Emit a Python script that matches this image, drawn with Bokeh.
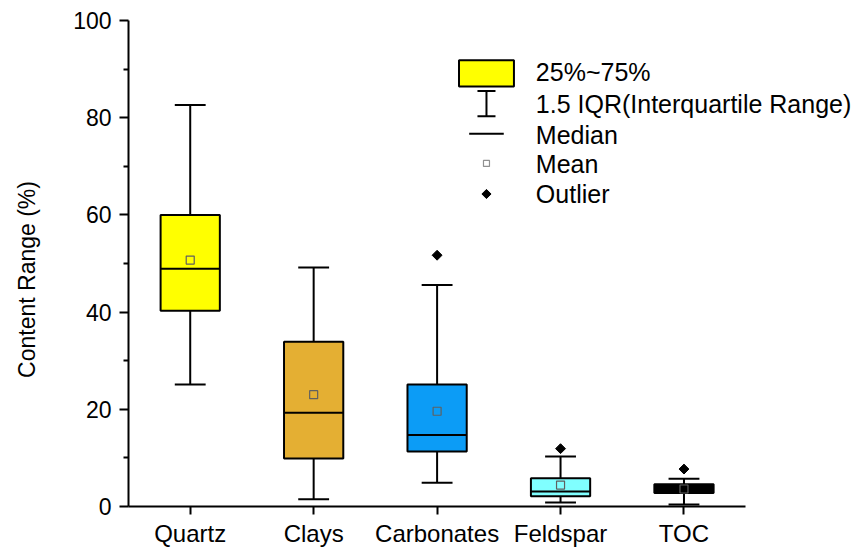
import numpy as np
from bokeh.plotting import figure
from bokeh.models import Range1d, FixedTicker, Label, ColumnDataSource
from bokeh.embed import file_html
from bokeh.resources import INLINE

# ---- data ----
categories = ["Quartz", "Clays", "Carbonates", "Feldspar", "TOC"]
lower_whisker = [25.1, 1.5, 4.9, 0.8, 0.4]
q1 = [40.3, 9.9, 11.3, 2.1, 2.8]
median = [48.9, 19.3, 14.7, 3.1, 3.3]
mean = [50.7, 23.0, 19.6, 4.4, 3.6]
q3 = [60.0, 33.9, 25.1, 5.8, 4.6]
upper_whisker = [82.6, 49.2, 45.6, 10.3, 5.7]
outlier_cat = ["Carbonates", "Feldspar", "TOC"]
outlier_val = [51.7, 11.9, 7.7]
colors = ["#FFFF00", "#E4AF33", "#0C9CF6", "#80FFFF", "#000000"]

legend_labels = ["25%~75%", "1.5 IQR(Interquartile Range)", "Median", "Mean", "Outlier"]

FONT = "Liberation Sans"

xpos = np.arange(1, len(categories) + 1, dtype=float)
pos_of = {c: i + 1 for i, c in enumerate(categories)}

# frame extends to the right edge so the legend text is not clipped;
# the x axis line is limited with bounds
p = figure(width=860, height=549, output_backend="svg", toolbar_location=None,
           x_range=Range1d(0.5, 6.43), y_range=Range1d(0, 100),
           min_border_left=128, min_border_right=0, min_border_top=20,
           min_border_bottom=42)
p.outline_line_color = None
p.xgrid.visible = False
p.ygrid.visible = False
p.background_fill_color = "white"
p.border_fill_color = "white"

# axes
p.xaxis.bounds = (0.5, 5.5)
p.yaxis.bounds = (0, 100)
p.xaxis.ticker = FixedTicker(ticks=list(xpos))
overrides = {float(x): c for x, c in zip(xpos, categories)}
overrides.update({int(x): c for x, c in zip(xpos, categories)})
p.xaxis.major_label_overrides = overrides
p.xaxis.minor_tick_line_color = None
p.yaxis.ticker = FixedTicker(ticks=[0, 20, 40, 60, 80, 100], minor_ticks=[10, 30, 50, 70, 90])
for ax in (p.xaxis, p.yaxis):
    ax.axis_line_width = 2
    ax.major_tick_line_width = 2
    ax.minor_tick_line_width = 2
    ax.major_tick_in = 0
    ax.major_tick_out = 9
    ax.minor_tick_in = 0
    ax.minor_tick_out = 5
    ax.major_label_text_font = FONT
    ax.major_label_text_font_size = "23px"
    ax.major_label_text_color = "black"
    ax.major_label_standoff = 8
    ax.axis_line_color = "black"
    ax.major_tick_line_color = "black"
p.xaxis.major_tick_out = 8
p.xaxis.major_label_standoff = 5
p.xaxis.major_label_text_font_size = "24px"
p.yaxis.axis_label = "Content Range (%)" + "\u00a0" * 5
p.yaxis.axis_label_text_font = FONT
p.yaxis.axis_label_text_font_size = "23px"
p.yaxis.axis_label_text_font_style = "normal"
p.yaxis.axis_label_text_color = "black"
p.yaxis.axis_label_standoff = 30

src = ColumnDataSource(dict(x=xpos, lo=lower_whisker, q1=q1, med=median, mean=mean,
                            q3=q3, hi=upper_whisker, color=colors))

box_w = 0.48
cap_w = 0.25

# whiskers
p.segment(x0="x", y0="q3", x1="x", y1="hi", source=src, line_color="black", line_width=2)
p.segment(x0="x", y0="q1", x1="x", y1="lo", source=src, line_color="black", line_width=2)
p.segment(x0=xpos - cap_w / 2, y0=upper_whisker, x1=xpos + cap_w / 2, y1=upper_whisker,
          line_color="black", line_width=2)
p.segment(x0=xpos - cap_w / 2, y0=lower_whisker, x1=xpos + cap_w / 2, y1=lower_whisker,
          line_color="black", line_width=2)
# boxes
p.vbar(x="x", bottom="q1", top="q3", width=box_w, source=src, fill_color="color",
       line_color="black", line_width=2)
# median
p.segment(x0=xpos - box_w / 2, y0=median, x1=xpos + box_w / 2, y1=median,
          line_color="black", line_width=2)
# mean
p.scatter(x="x", y="mean", source=src, marker="square", size=8, fill_color=None,
          line_color="#606060", line_width=1.2)
# outliers (rotated squares = diamonds)
p.scatter(x=[pos_of[c] for c in outlier_cat], y=outlier_val, marker="square", size=7,
          angle=np.pi / 4, fill_color="black", line_color="black")

# ---- legend drawn by hand ----
lx = 3.40
p.rect(x=[lx], y=[89.1], width=0.445, height=5.4, fill_color=colors[0],
       line_color="black", line_width=2)
p.segment(x0=[lx], y0=[85.5], x1=[lx], y1=[80.3], line_color="black", line_width=2)
p.segment(x0=[lx - 0.073, lx - 0.073], y0=[85.5, 80.3], x1=[lx + 0.073, lx + 0.073],
          y1=[85.5, 80.3], line_color="black", line_width=2)
p.segment(x0=[3.26], y0=[76.7], x1=[3.54], y1=[76.7], line_color="black", line_width=2)
p.scatter(x=[lx], y=[70.6], marker="square", size=6, fill_color=None,
          line_color="#909090", line_width=1.2)
p.scatter(x=[lx], y=[64.3], marker="square", size=6.5, angle=np.pi / 4,
          fill_color="black", line_color="black")

for txt, yy in zip(legend_labels, [89.4, 82.9, 76.5, 70.4, 64.4]):
    p.add_layout(Label(x=3.80, y=yy, text=txt, text_font=FONT, text_font_size="25px",
                       text_baseline="middle", text_align="left", text_color="black"))

open("out.html", "w").write(file_html(p, INLINE))
